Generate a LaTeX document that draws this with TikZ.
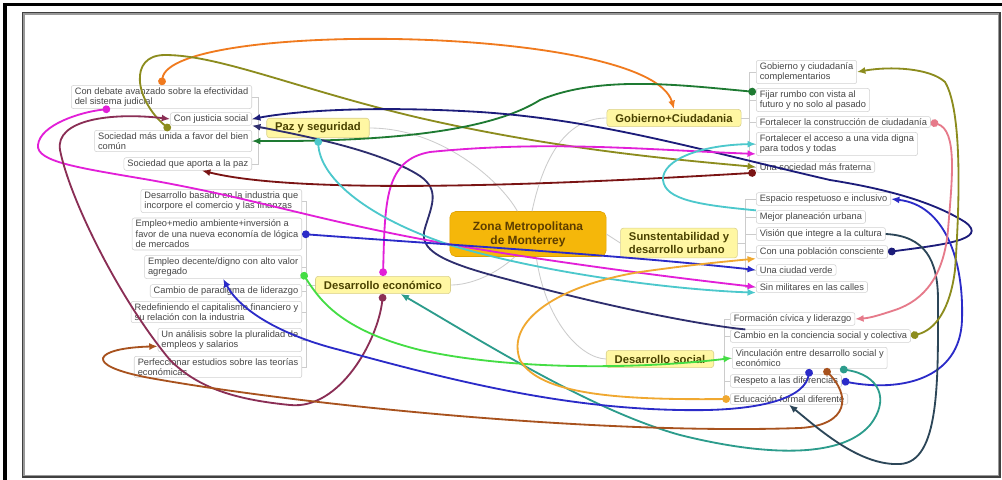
\documentclass[tikz,border=0pt]{standalone}
\usepackage{fontspec}
\setmainfont{Liberation Sans}
\usetikzlibrary{arrows.meta}
\definecolor{hubfill}{HTML}{F5B70A}
\definecolor{hubline}{HTML}{E0A200}
\definecolor{hubtext}{HTML}{5C3D00}
\definecolor{branchfill}{HTML}{FFF7A3}
\definecolor{branchline}{HTML}{D9D08C}
\definecolor{branchtext}{HTML}{4A4200}
\definecolor{orangeL}{HTML}{F07A1E}
\definecolor{oliveL}{HTML}{8C8C1E}
\definecolor{greenD}{HTML}{1E7A32}
\definecolor{navyL}{HTML}{1C1C7A}
\definecolor{navyD}{HTML}{2E2E6E}
\definecolor{blueL}{HTML}{2B2BC8}
\definecolor{magL}{HTML}{E21FD8}
\definecolor{mauveL}{HTML}{8A2E55}
\definecolor{redD}{HTML}{7A1414}
\definecolor{cyanL}{HTML}{4CC8CC}
\definecolor{tealL}{HTML}{2C9C8C}
\definecolor{greenL}{HTML}{44DD44}
\definecolor{goldL}{HTML}{F0A830}
\definecolor{siennaL}{HTML}{A8521E}
\definecolor{slateL}{HTML}{2C4658}
\definecolor{pinkL}{HTML}{E67A8A}
\tikzset{
  leaf/.style={draw=black!18, fill=white, rounded corners=1.5pt, inner xsep=2.5pt, inner ysep=1.4pt,
    font=\fontsize{6.6}{7.5}\selectfont, text=black!72, align=left},
  branch/.style={draw=branchline, fill=branchfill, rounded corners=2pt, inner xsep=6pt, inner ysep=3.2pt,
    font=\fontsize{8}{8.8}\selectfont\bfseries, text=branchtext, align=left},
  hub/.style={draw=hubline, fill=hubfill, rounded corners=4pt, minimum width=111pt, minimum height=32pt,
    font=\fontsize{8.5}{10}\selectfont\bfseries, text=hubtext, align=center},
  twig/.style={draw=black!20, line width=0.6pt},
  link/.style={line width=1.3pt, {Circle[length=5.5pt]}-{Latex[length=6pt,width=5pt]}},
  bare/.style={line width=1.3pt, -{Latex[length=6pt,width=5pt]}}
}
\begin{document}
\begin{tikzpicture}[x=0.025cm, y=-0.025cm]
  \useasboundingbox (0,0) rectangle (1002,480);
  \fill[white] (0,0) rectangle (1002,480);
  \draw[line width=2.2pt] (5,481) -- (5,4.5) -- (1003,4.5);
  \draw[black!40, line width=0.8pt] (24,14) rectangle (998.5,475.5);
  \draw[black!75, line width=1.2pt] (22.5,12.5) rectangle (1000,477);

  \node[hub] (zmm) at (528,234) {Zona Metropolitana\\de Monterrey};
  \node[branch] (paz) at (318,128) {Paz y seguridad};
  \node[branch] (gob) at (674,118) {Gobierno+Ciudadania};
  \node[branch] (sus) at (679,243) {Sunstentabilidad y\\desarrollo urbano};
  \node[branch] (eco) at (383,285) {Desarrollo económico};
  \node[branch] (soc) at (660,359) {Desarrollo social};

  \node[leaf, anchor=east] (debate) at (252,97) {Con debate avanzado sobre la efectividad\\del sistema judicial};
  \node[leaf, anchor=east] (justicia) at (252,119) {Con justicia social};
  \node[leaf, anchor=east] (unida) at (252,141) {Sociedad más unida a favor del bien\\común};
  \node[leaf, anchor=east] (aporta) at (252,164) {Sociedad que aporta a la paz};

  \node[leaf, anchor=east] (basado) at (302,201) {Desarrollo basado en la industria que\\incorpore el comercio y las finanzas};
  \node[leaf, anchor=east] (empleo) at (302,234) {Empleo+medio ambiente+inversión a\\favor de una nueva economía de lógica\\de mercados};
  \node[leaf, anchor=east] (decente) at (302,267) {Empleo decente/digno con alto valor\\agregado};
  \node[leaf, anchor=east] (paradigma) at (302,291) {Cambio de paradigma de liderazgo};
  \node[leaf, anchor=east] (capital) at (302,312) {Redefiniendo el capitalismo financiero y\\su relación con la industria};
  \node[leaf, anchor=east] (plural) at (302,340) {Un análisis sobre la pluralidad de\\empleos y salarios};
  \node[leaf, anchor=east] (teorias) at (302,367) {Perfeccionar estudios sobre las teorías\\económicas};

  \node[leaf, anchor=west] (complem) at (756,72) {Gobierno y ciudadanía\\complementarios};
  \node[leaf, anchor=west] (rumbo) at (756,100) {Fijar rumbo con vista al\\futuro y no solo al pasado};
  \node[leaf, anchor=west] (construc) at (756,122) {Fortalecer la construcción de ciudadanía};
  \node[leaf, anchor=west] (acceso) at (756,144) {Fortalecer el acceso a una vida digna\\para todos y todas};
  \node[leaf, anchor=west] (fraterna) at (756,167) {Una sociedad más fraterna};

  \node[leaf, anchor=west] (espacio) at (756,199) {Espacio respetuoso e inclusivo};
  \node[leaf, anchor=west] (planea) at (756,217) {Mejor planeación urbana};
  \node[leaf, anchor=west] (vision) at (756,234) {Visión que integre a la cultura};
  \node[leaf, anchor=west] (poblacion) at (756,252) {Con una población consciente};
  \node[leaf, anchor=west] (verde) at (756,270) {Una ciudad verde};
  \node[leaf, anchor=west] (militares) at (756,287) {Sin militares en las calles};

  \node[leaf, anchor=west] (civica) at (730,319) {Formación cívica y liderazgo};
  \node[leaf, anchor=west] (conciencia) at (730,336) {Cambio en la conciencia social y colectiva};
  \node[leaf, anchor=west] (vincula) at (732,358) {Vinculación entre desarrollo social y\\económico};
  \node[leaf, anchor=west] (respeto) at (730,381) {Respeto a las diferencias};
  \node[leaf, anchor=west] (educa) at (730,399) {Educación formal diferente};

  \foreach \n in {debate,justicia,unida,aporta}
    \draw[twig] (paz.west) -- ++(-8,0) |- (\n.east);
  \foreach \n in {basado,empleo,decente,paradigma,capital,plural,teorias}
    \draw[twig] (eco.west) -- ++(-9,0) |- (\n.east);
  \foreach \n in {complem,rumbo,construc,acceso,fraterna}
    \draw[twig] (gob.east) -- ++(8,0) |- (\n.west);
  \foreach \n in {espacio,planea,vision,poblacion,verde,militares}
    \draw[twig] (sus.east) -- ++(8,0) |- (\n.west);
  \foreach \n in {civica,conciencia,vincula,respeto,educa}
    \draw[twig] (soc.east) -- ++(10,0) |- (\n.west);

  \draw[twig] (zmm.115) .. controls (500,180) and (440,128) .. (paz.east);
  \draw[twig] (zmm.80) .. controls (545,150) and (570,118) .. (gob.west);
  \draw[twig] (zmm.east) -- (sus.west);
  \draw[twig] (zmm.240) .. controls (495,275) and (470,285) .. (eco.east);
  \draw[twig] (zmm.290) .. controls (545,320) and (580,358) .. (soc.west);

  \draw[link, orangeL] (debate.north) .. controls (170,20) and (650,25) .. (gob.north);
  \draw[link, oliveL] (unida.105) .. controls (135,100) and (128,55) .. (165,55) .. controls (220,55) and (300,90) .. (420,118) .. controls (560,150) and (680,160) .. (fraterna.west);
  \draw[link, greenD] (rumbo.172) .. controls (680,85) and (600,75) .. (540,100) .. controls (500,125) and (420,142) .. (unida.east);
  \draw[link, navyL] (poblacion.east) .. controls (940,245) and (990,240) .. (965,222) .. controls (930,200) and (880,188) .. (830,180) .. controls (700,150) and (600,120) .. (480,112) .. controls (380,106) and (300,110) .. (justicia.east);
  \draw[link, blueL] (respeto.east) .. controls (900,392) and (960,380) .. (962,320) .. controls (964,260) and (945,205) .. (espacio.east);
  \draw[bare, navyD] (conciencia.175) .. controls (700,325) and (600,305) .. (510,280) .. controls (440,262) and (418,250) .. (425,228) .. controls (432,205) and (440,190) .. (420,176) .. controls (380,150) and (300,135) .. (justicia.south east);
  \draw[link, magL] (eco.north) .. controls (385,200) and (385,160) .. (430,152) .. controls (550,140) and (650,150) .. (acceso.187);
  \draw[link, magL] (debate.193) .. controls (80,112) and (40,125) .. (38,145) .. controls (36,162) and (80,168) .. (150,180) .. controls (250,198) and (300,215) .. (400,235) .. controls (500,255) and (650,275) .. (militares.west);
  \draw[link, mauveL] (eco.south) .. controls (378,340) and (340,410) .. (290,405) .. controls (240,400) and (200,390) .. (170,360) .. controls (120,300) and (70,200) .. (60,150) .. controls (55,120) and (110,112) .. (justicia.west);
  \draw[link, redD] (fraterna.south west) .. controls (550,185) and (300,195) .. (aporta.-25);
  \draw[link, cyanL] (paz.south) .. controls (320,175) and (360,215) .. (450,245) .. controls (550,275) and (680,290) .. (militares.south west);
  \draw[bare, cyanL] (planea.north west) .. controls (700,205) and (665,200) .. (663,180) .. controls (662,160) and (700,145) .. (acceso.west);
  \draw[link, tealL] (vincula.-20) .. controls (880,375) and (890,400) .. (870,425) .. controls (840,460) and (760,455) .. (680,435) .. controls (590,410) and (480,340) .. (eco.-27);
  \draw[link, greenL] (decente.-4) .. controls (320,300) and (340,330) .. (420,350) .. controls (520,372) and (650,368) .. (vincula.west);
  \draw[link, blueL] (empleo.east) .. controls (450,245) and (620,255) .. (verde.west);
  \draw[link, blueL] (vincula.south) .. controls (805,395) and (770,412) .. (680,410) .. controls (560,408) and (450,380) .. (340,350) .. controls (280,335) and (240,310) .. (decente.south);
  \draw[link, goldL] (educa.west) .. controls (620,400) and (540,395) .. (520,360) .. controls (505,320) and (560,285) .. (640,272) .. controls (690,265) and (720,262) .. (poblacion.south west);
  \draw[link, siennaL] (vincula.-37) .. controls (850,395) and (850,425) .. (800,428) .. controls (600,435) and (300,405) .. (150,378) .. controls (80,365) and (95,348) .. (plural.185);
  \draw[bare, slateL] (vision.east) .. controls (925,236) and (938,260) .. (938,300) .. controls (938,380) and (940,462) .. (900,464) .. controls (860,466) and (820,430) .. (educa.south);
  \draw[link, pinkL] (construc.east) .. controls (958,130) and (952,180) .. (948,230) .. controls (944,275) and (925,300) .. (895,310) .. controls (880,315) and (870,318) .. (civica.east);
  \draw[link, oliveL] (conciencia.east) .. controls (935,330) and (950,310) .. (955,270) .. controls (960,200) and (962,110) .. (945,82) .. controls (930,68) and (890,66) .. (complem.east);
\end{tikzpicture}
\end{document}
